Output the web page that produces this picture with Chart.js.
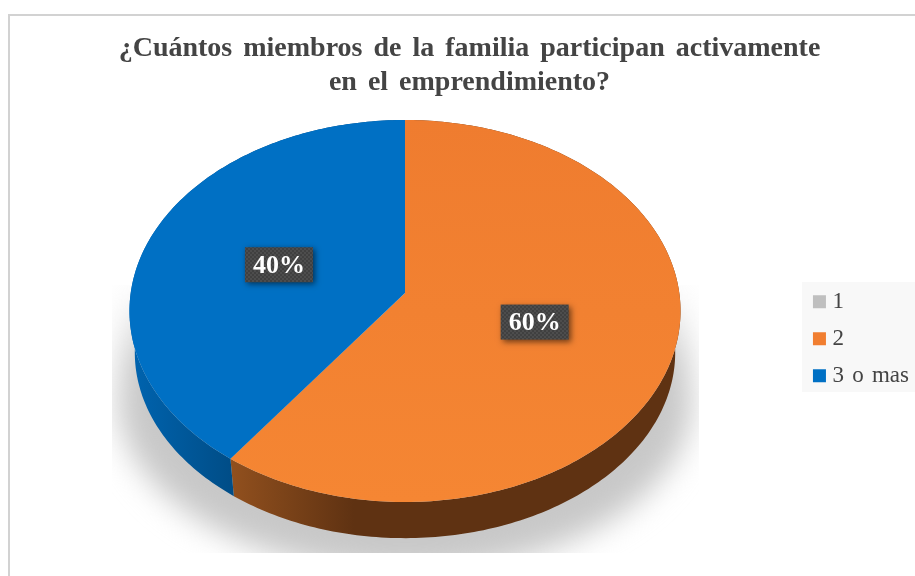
<!DOCTYPE html>
<html lang="es">
<head>
<meta charset="utf-8">
<title>Miembros de la familia</title>
<script src="https://cdn.jsdelivr.net/npm/chart.js@4"></script>
<style>
html,body{margin:0;padding:0;background:#fff;width:915px;height:576px;overflow:hidden}
#frame{position:absolute;left:8px;top:14px;width:907px;height:562px;border-left:2px solid #d2d2d2;border-top:2px solid #d2d2d2;box-sizing:border-box}
#c{position:absolute;left:24px;top:0;filter:blur(0.6px)}
</style>
</head>
<body>
<div id="frame"></div>
<canvas id="c" width="891" height="576"></canvas>
<script>
const categories = ['1', '2', '3 o mas'];
const shares = [0, 60, 40];
const sliceColors = ['#bfbfbf', '#f17e30', '#0070c4'];
const titleLines = ['¿Cuántos miembros de la familia participan activamente', 'en el emprendimiento?'];

// Perspective of the tilted disc (canvas pixels)
const TILT = -0.0942;
const TOP_FACE = {cx: 381, cy: 293, a: 274.3, b: 189.3};
const LOW_FACE = {cx: 381, cy: 335, a: 269, b: 184};

function project(face, angle, r) {
  const u = Math.cos(angle) * r, v = Math.sin(angle) * r;
  const w = 1 + TILT * v;
  return [face.cx + face.a * u / w, face.cy + face.b * v / w];
}
function rimPoints(face, start, end) {
  const n = Math.max(2, Math.ceil((end - start) * 60)), pts = [];
  for (let i = 0; i <= n; i++) pts.push(project(face, start + (end - start) * i / n, 1));
  return pts;
}
function sideFill(ctx, index) {
  if (index === 1) {
    const g = ctx.createLinearGradient(207, 0, 330, 0);
    g.addColorStop(0, '#91501e');
    g.addColorStop(1, '#5f3212');
    return g;
  }
  const g = ctx.createLinearGradient(110, 0, 212, 0);
  g.addColorStop(0, '#0063ae');
  g.addColorStop(1, '#004c85');
  return g;
}
function faceFill(ctx, index) {
  if (index === 1) {
    const g = ctx.createLinearGradient(0, 120, 0, 502);
    g.addColorStop(0, '#ef7c2f');
    g.addColorStop(1, '#f58633');
    return g;
  }
  return sliceColors[index];
}
function labelPattern(ctx) {
  const t = document.createElement('canvas');
  t.width = t.height = 4;
  const c = t.getContext('2d');
  c.fillStyle = 'rgba(255,255,255,0.07)';
  c.fillRect(0, 0, 2, 2);
  c.fillRect(2, 2, 2, 2);
  return ctx.createPattern(t, 'repeat');
}

const disc3d = {
  id: 'disc3d',
  beforeLayout(chart) { chart.ctx.wordSpacing = '4px'; },
  afterLayout(chart) {
    const lg = chart.legend, ctx = chart.ctx;
    lg.left += 7;
    lg.right += 7;
    lg.top += 0.5;
    lg.bottom += 0.5;
    if (!lg.wrappedDraw) {
      const base = lg.draw;
      lg.wrappedDraw = true;
      lg.draw = function () {
        ctx.wordSpacing = '2.5px';
        base.call(this);
        ctx.wordSpacing = '4px';
      };
    }
  },
  beforeDraw(chart) {
    const ctx = chart.ctx;
    ctx.wordSpacing = '4px';
    ctx.save();
    ctx.fillStyle = '#f8f8f8';
    ctx.fillRect(778, 282, 113, 110);
    ctx.restore();
  },
  beforeDatasetsDraw(chart) {
    const ctx = chart.ctx, arcs = chart.getDatasetMeta(0).data;
    // soft shadow under the disc, cut off by its own rectangle
    ctx.save();
    ctx.beginPath();
    ctx.rect(88, 285, 587, 268);
    ctx.clip();
    ctx.filter = 'blur(15px)';
    const sh = ctx.createLinearGradient(0, 285, 0, 360);
    sh.addColorStop(0, 'rgba(200,200,200,0)');
    sh.addColorStop(1, 'rgba(200,200,200,1)');
    ctx.fillStyle = sh;
    ctx.beginPath();
    ctx.moveTo(106, 285);
    ctx.lineTo(94, 400);
    ctx.ellipse(381, 400, 287, 172, 0, Math.PI, 0, true);
    ctx.lineTo(656, 285);
    ctx.closePath();
    ctx.fill();
    ctx.restore();
    // sides
    arcs.forEach((arc, i) => {
      if (arc.endAngle - arc.startAngle <= 0) return;
      const up = rimPoints(TOP_FACE, arc.startAngle, arc.endAngle);
      const low = rimPoints(LOW_FACE, arc.startAngle, arc.endAngle).reverse();
      ctx.beginPath();
      up.concat(low).forEach((p, k) => k ? ctx.lineTo(p[0], p[1]) : ctx.moveTo(p[0], p[1]));
      ctx.closePath();
      ctx.fillStyle = sideFill(ctx, i);
      ctx.fill();
    });
    // top faces
    arcs.forEach((arc, i) => {
      if (arc.endAngle - arc.startAngle <= 0) return;
      ctx.beginPath();
      ctx.moveTo(TOP_FACE.cx, TOP_FACE.cy);
      rimPoints(TOP_FACE, arc.startAngle, arc.endAngle).forEach(p => ctx.lineTo(p[0], p[1]));
      ctx.closePath();
      ctx.fillStyle = faceFill(ctx, i);
      ctx.fill();
    });
    // value labels
    const total = shares.reduce((s, v) => s + v, 0);
    const pat = labelPattern(ctx);
    arcs.forEach((arc, i) => {
      if (arc.endAngle - arc.startAngle <= 0) return;
      const [x, y] = project(TOP_FACE, (arc.startAngle + arc.endAngle) / 2, 0.49);
      ctx.save();
      ctx.shadowColor = 'rgba(0,0,0,0.55)';
      ctx.shadowBlur = 6;
      ctx.shadowOffsetX = 2;
      ctx.shadowOffsetY = 2;
      ctx.fillStyle = '#404040';
      ctx.fillRect(x - 34, y - 17.5, 68, 35);
      ctx.shadowColor = 'transparent';
      ctx.fillStyle = pat;
      ctx.fillRect(x - 34, y - 17.5, 68, 35);
      ctx.wordSpacing = '0px';
      ctx.fillStyle = '#ffffff';
      ctx.font = 'bold 26px "Liberation Serif"';
      ctx.textAlign = 'center';
      ctx.textBaseline = 'middle';
      ctx.fillText(Math.round(shares[i] / total * 100) + '%', x, y + 1.5);
      ctx.restore();
    });
    return false;
  }
};

new Chart(document.getElementById('c'), {
  type: 'pie',
  data: {
    labels: categories,
    datasets: [{data: shares, backgroundColor: sliceColors, borderWidth: 0}]
  },
  plugins: [disc3d],
  options: {
    responsive: false,
    animation: false,
    layout: {padding: 0},
    plugins: {
      tooltip: {enabled: false},
      title: {
        display: true,
        text: titleLines,
        color: '#444444',
        font: {family: '"Liberation Serif"', size: 28, weight: 'bold', lineHeight: 1.22},
        padding: {top: 32, bottom: 0}
      },
      legend: {
        position: 'right',
        fullSize: false,
        labels: {
          boxWidth: 3,
          boxHeight: 3,
          padding: 14,
          color: '#444444',
          font: {family: '"Liberation Serif"', size: 23},
          generateLabels(chart) {
            return Chart.overrides.pie.plugins.legend.labels.generateLabels(chart).map(item => {
              item.strokeStyle = item.fillStyle;
              item.lineWidth = 10;
              return item;
            });
          }
        }
      }
    }
  }
});
</script>
</body>
</html>
